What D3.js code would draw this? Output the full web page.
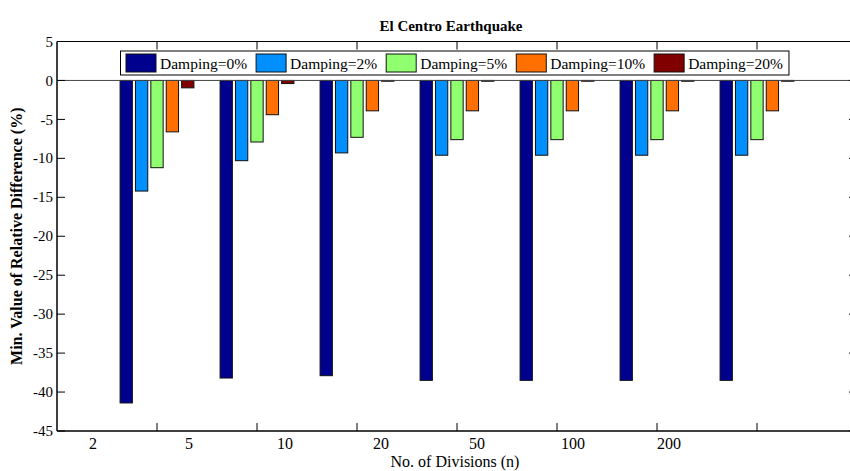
<!DOCTYPE html>
<html>
<head>
<meta charset="utf-8">
<script src="https://cdn.jsdelivr.net/npm/d3@7"></script>
<style>
  html, body { margin: 0; padding: 0; background: #fff; }
  svg text { font-family: "Liberation Serif", "Times New Roman", Times, "DejaVu Serif", serif; }
</style>
</head>
<body>
<svg id="chart" width="850" height="471"></svg>
<script>
// Division counts shown along the x axis
const divisions = ["2", "5", "10", "20", "50", "100", "200"];
// Damping ratios, one bar series each
const dampings = ["Damping=0%", "Damping=2%", "Damping=5%", "Damping=10%", "Damping=20%"];
const seriesColors = ["#00008f", "#008fff", "#8fff70", "#ff7000", "#800000"];
// Minimum relative difference (%) per group, one array per damping ratio
const damping0  = [-41.4, -38.2, -37.9, -38.5, -38.5, -38.5, -38.5];
const damping2  = [-14.2, -10.3, -9.3, -9.6, -9.6, -9.6, -9.6];
const damping5  = [-11.2, -7.9, -7.3, -7.6, -7.6, -7.6, -7.6];
const damping10 = [-6.6, -4.4, -3.9, -3.9, -3.9, -3.9, -3.9];
const damping20 = [-0.95, -0.4, -0.1, -0.1, -0.1, -0.1, -0.1];
const seriesValues = [damping0, damping2, damping5, damping10, damping20];
const yTicks = [5, 0, -5, -10, -15, -20, -25, -30, -35, -40, -45];

const FONT = "'Liberation Serif', 'Times New Roman', Times, serif";
const svg = d3.select("#chart");
const plot = { left: 57, right: 857, top: 41.5, bottom: 431 };
const tickLen = 8;

// Group i sits at x = i + 1 on a [0, 8] axis
const x = d3.scaleLinear().domain([0, divisions.length + 1]).range([plot.left, plot.right]);
const y = d3.scaleLinear().domain([-45, 5]).range([plot.bottom, plot.top]);

// Grouped bar geometry
const nSeries = dampings.length;
const groupWidth = Math.min(0.8, nSeries / (nSeries + 1.5));
const slot = groupWidth / nSeries;
const barW = slot * 0.8;

const data = [];
seriesValues.forEach((vals, s) => {
  vals.forEach((v, g) => data.push({ s, g, v }));
});

const bars = svg.append("g");
bars.selectAll("rect")
  .data(data)
  .join("rect")
  .attr("x", d => x(d.g + 1 + (d.s - (nSeries - 1) / 2) * slot - barW / 2))
  .attr("width", d => x(barW) - x(0))
  .attr("y", d => Math.min(y(0), y(d.v)))
  .attr("height", d => Math.abs(y(d.v) - y(0)))
  .attr("fill", d => seriesColors[d.s])
  .attr("stroke", "#111")
  .attr("stroke-width", 1);

// Zero baseline
svg.append("line")
  .attr("x1", plot.left).attr("x2", plot.right)
  .attr("y1", y(0)).attr("y2", y(0))
  .attr("stroke", "#444").attr("stroke-width", 1);

// Axes box
const axisG = svg.append("g").attr("stroke", "#000").attr("fill", "none");
axisG.append("line").attr("x1", plot.left).attr("x2", plot.left).attr("y1", plot.top).attr("y2", plot.bottom).attr("stroke-width", 1.5);
axisG.append("line").attr("x1", plot.right).attr("x2", plot.right).attr("y1", plot.top).attr("y2", plot.bottom).attr("stroke-width", 1.5);
axisG.append("line").attr("x1", plot.left).attr("x2", plot.right).attr("y1", plot.bottom).attr("y2", plot.bottom).attr("stroke-width", 1.5);
axisG.append("line").attr("x1", plot.left).attr("x2", plot.right).attr("y1", plot.top).attr("y2", plot.top).attr("stroke-width", 1);

// Y ticks (inward on both sides)
yTicks.forEach(t => {
  axisG.append("line").attr("x1", plot.left).attr("x2", plot.left + tickLen).attr("y1", y(t)).attr("y2", y(t)).attr("stroke-width", 1);
  axisG.append("line").attr("x1", plot.right).attr("x2", plot.right - tickLen).attr("y1", y(t)).attr("y2", y(t)).attr("stroke-width", 1);
});
svg.append("g").selectAll("text")
  .data(yTicks)
  .join("text")
  .attr("x", plot.left - 4)
  .attr("y", d => y(d))
  .attr("dy", "0.34em")
  .attr("text-anchor", "end")
  .attr("font-family", FONT)
  .attr("font-size", 15)
  .text(d => d);

// X ticks at group centres (inward, top and bottom)
divisions.forEach((_, i) => {
  const px = x(i + 1);
  axisG.append("line").attr("x1", px).attr("x2", px).attr("y1", plot.bottom).attr("y2", plot.bottom - tickLen).attr("stroke-width", 1);
  axisG.append("line").attr("x1", px).attr("x2", px).attr("y1", plot.top).attr("y2", plot.top + tickLen).attr("stroke-width", 1);
});

// Division labels spaced evenly under the axis
const xLabel = d3.scalePoint().domain(divisions).range([93, 669]);
svg.append("g").selectAll("text")
  .data(divisions)
  .join("text")
  .attr("x", d => xLabel(d))
  .attr("y", 449)
  .attr("text-anchor", "middle")
  .attr("font-family", FONT)
  .attr("font-size", 16)
  .text(d => d);

// Titles
svg.append("text")
  .attr("x", (plot.left + plot.right) / 2 - 6)
  .attr("y", 31)
  .attr("text-anchor", "middle")
  .attr("font-family", FONT)
  .attr("font-size", 15)
  .attr("font-weight", "bold")
  .text("El Centro Earthquake");

svg.append("text")
  .attr("x", (plot.left + plot.right) / 2 - 2)
  .attr("y", 467)
  .attr("text-anchor", "middle")
  .attr("font-family", FONT)
  .attr("font-size", 16)
  .text("No. of Divisions (n)");

svg.append("text")
  .attr("transform", `translate(22, ${(plot.top + plot.bottom) / 2}) rotate(-90)`)
  .attr("text-anchor", "middle")
  .attr("font-family", FONT)
  .attr("font-size", 16)
  .attr("font-weight", "bold")
  .text("Min. Value of Relative Difference (%)");

// Horizontal legend
const legend = svg.append("g");
const legendBox = legend.append("rect")
  .attr("fill", "#fff").attr("stroke", "#000").attr("stroke-width", 1);
let cursor = 126;
dampings.forEach((name, i) => {
  legend.append("rect")
    .attr("x", cursor).attr("y", 54)
    .attr("width", 30).attr("height", 18)
    .attr("fill", seriesColors[i])
    .attr("stroke", "#111").attr("stroke-width", 1);
  const t = legend.append("text")
    .attr("x", cursor + 34).attr("y", 68.5)
    .attr("font-family", FONT)
    .attr("font-size", 15.5)
    .text(name);
  const w = t.node().getComputedTextLength();
  cursor = cursor + 34 + w + 9;
});
legendBox
  .attr("x", 120.5).attr("y", 51)
  .attr("width", cursor - 9 + 6 - 120.5)
  .attr("height", 24);
</script>
</body>
</html>
